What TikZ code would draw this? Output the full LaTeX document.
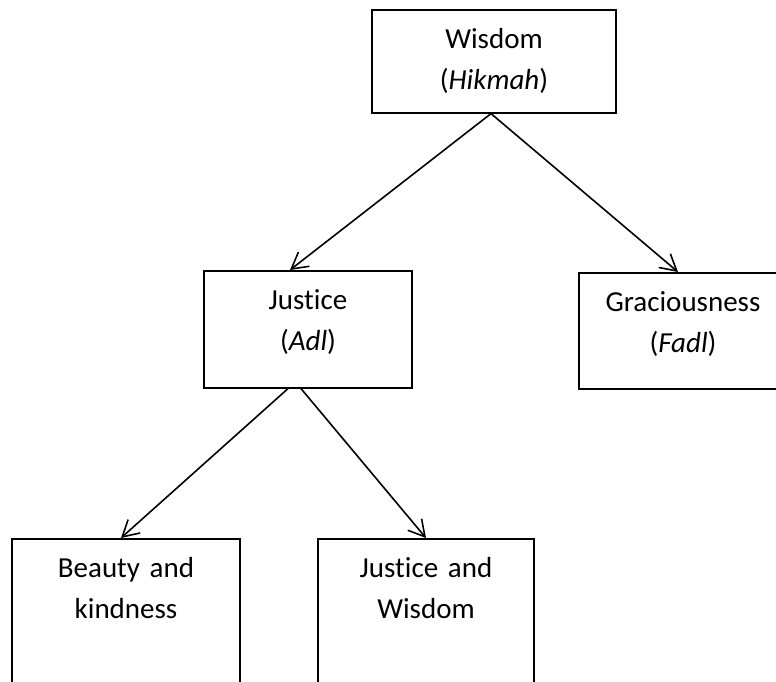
\documentclass[tikz,border=0pt]{standalone}
\usepackage{fontspec}
\setmainfont{Carlito}[Ligatures=NoCommon]
\usepackage{tikz}
\usetikzlibrary{arrows.meta}

\begin{document}
\begin{tikzpicture}[x=1pt,y=-1pt,line width=1.6pt,
  >={Straight Barb[length=16pt,width=18pt]},
  box/.style={draw,anchor=north,align=center,inner sep=0pt,
    font=\fontsize{29}{41}\selectfont,text height=39pt}]
\clip (0,0) rectangle (776,681);
\node[box,text width=244pt,text depth=64pt] (A) at (494,9) {Wisdom\\(\textit{Hikmah})};
\node[box,text width=208pt,text depth=78pt] (B) at (308,270) {Justice\\(\textit{Adl})};
\node[box,text width=208pt,text depth=77pt] (C) at (683,272) {Graciousness\\(\textit{Fadl})};
\node[box,text width=228pt,text depth=170pt] (D) at (126,538) {Beauty and\\kindness};
\node[box,text width=216pt,text depth=170pt] (E) at (426,538) {Justice and\\Wisdom};
\draw [->] ([xshift=-3pt]A.south) -- ([xshift=-18pt]B.north);
\draw [->] ([xshift=-3pt]A.south) -- ([xshift=-5pt]C.north);
\draw [->] ([xshift=-20pt]B.south) -- ([xshift=-5pt]D.north);
\draw [->] ([xshift=-7pt]B.south) -- (E.north);
\end{tikzpicture}
\end{document}
